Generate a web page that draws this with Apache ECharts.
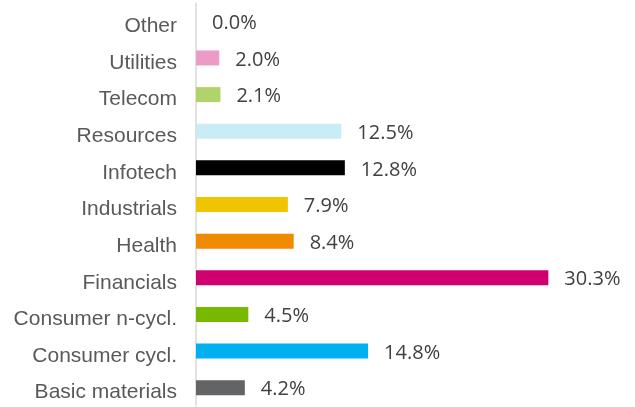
<!DOCTYPE html>
<html>
<head>
<meta charset="utf-8">
<script src="https://cdn.jsdelivr.net/npm/echarts@6/dist/echarts.min.js"></script>
<style>
  html, body { margin: 0; padding: 0; background: #fff; }
  #chart { width: 635px; height: 407px; }
</style>
</head>
<body>
<div id="chart"></div>
<script>
const categories = ['Basic materials', 'Consumer cycl.', 'Consumer n-cycl.', 'Financials', 'Health',
  'Industrials', 'Infotech', 'Resources', 'Telecom', 'Utilities', 'Other']
const values = [4.2, 14.8, 4.5, 30.3, 8.4, 7.9, 12.8, 12.5, 2.1, 2.0, 0.0]
const colors = ['#636466', '#00b0f0', '#77b800', '#d1006f', '#f08a00',
  '#f0c400', '#000000', '#c9ecf7', '#b0d46b', '#ee9ac6', '#ffffff']

const chart = echarts.init(document.getElementById('chart'))

chart.setOption({
  animation: false,
  grid: { left: 196, right: 32, top: 3, bottom: 1, containLabel: false },
  xAxis: {
    type: 'value',
    min: 0,
    max: 35,
    show: false
  },
  yAxis: {
    type: 'category',
    data: categories,
    axisLine: { show: true, lineStyle: { color: '#d9d9d9', width: 1.5 } },
    axisTick: { show: false },
    axisLabel: {
      color: '#595959',
      fontFamily: 'Liberation Sans, Arial',
      fontSize: 21,
      margin: 19,
      verticalAlign: 'top',
      lineHeight: 10
    }
  },
  series: [{
    type: 'bar',
    data: values.map((v, i) => ({ value: v, itemStyle: { color: colors[i] } })),
    barWidth: 15,
    label: {
      show: true,
      position: 'right',
      distance: 16,
      offset: [0, 2],
      color: '#404040',
      fontFamily: 'Open Sans',
      fontSize: 20,
      formatter: p => p.value.toFixed(1) + '%'
    }
  }]
})
</script>
</body>
</html>
